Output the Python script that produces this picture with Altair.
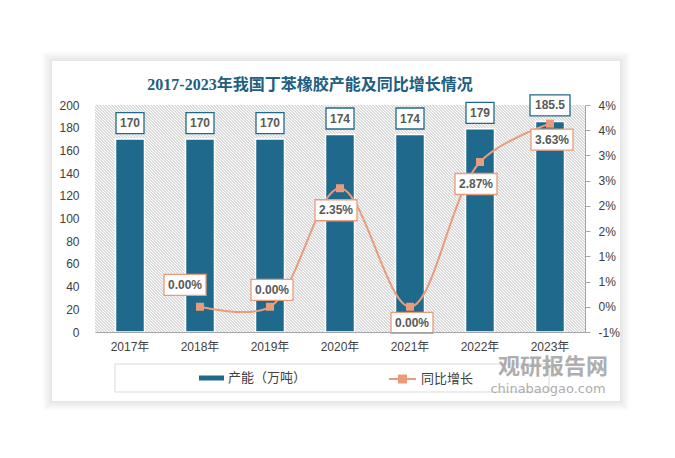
import altair as alt
import pandas as pd

# ---------------- data ----------------
years = ["2017年", "2018年", "2019年", "2020年", "2021年", "2022年", "2023年"]
capacity = [170, 170, 170, 174, 174, 179, 185.5]
growth = [None, 0.0, 0.0, 0.0235, 0.0, 0.0287, 0.0363]
left_ticks = [0, 20, 40, 60, 80, 100, 120, 140, 160, 180, 200]
right_ticks = [-0.005, 0.0, 0.005, 0.01, 0.015, 0.02, 0.025, 0.03, 0.035, 0.04]
series_bar = "产能（万吨）"
series_line = "同比增长"
title_text = "2017-2023年我国丁苯橡胶产能及同比增长情况"

# ---------------- style ----------------
BLUE = "#1F6A8C"
ORANGE = "#E99C7B"
TITLE_C = "#215E80"
AX_C = "#404040"
LBL_C = "#595959"
LINE_C = "#a6a6a6"
FONT = "Liberation Sans, Noto Sans CJK SC"
CJK = "Noto Sans CJK SC"
W, H = 490, 227

df = pd.DataFrame({"year": years, "cap": capacity, "growth": growth})
one = pd.DataFrame({"k": [0]})

# hatch pattern via a striped linear gradient (isolines at 45 degrees)
N = 239
stops = []
for i in range(N):
    a = i / N
    b = (i + 0.34) / N
    stops += [
        {"offset": a, "color": "#dcdcdc"},
        {"offset": b, "color": "#dcdcdc"},
        {"offset": b, "color": "#ffffff"},
        {"offset": (i + 1) / N, "color": "#ffffff"},
    ]
hatch = {"gradient": "linear", "x1": 0, "y1": 1, "x2": 1.2047, "y2": 0.4419, "stops": stops}


def deco_rect(x, x2, y, y2, **mk):
    return alt.Chart(one).mark_rect(**mk).encode(
        x=alt.value(x), x2=alt.value(x2), y=alt.value(y), y2=alt.value(y2)
    )


x_enc = alt.X(
    "year:N",
    sort=years,
    scale=alt.Scale(paddingInner=0, paddingOuter=0),
    axis=alt.Axis(
        title=None, labelAngle=0, domainColor=LINE_C, domainWidth=1, ticks=False, tickSize=0,
        labelPadding=9, labelFont=FONT, labelFontSize=12, labelColor=AX_C, grid=False, zindex=2,
    ),
)
y_left = alt.Y(
    "cap:Q",
    scale=alt.Scale(domain=[0, 200], nice=False, zero=True),
    axis=alt.Axis(
        title=None, values=left_ticks, domain=False, ticks=False, tickSize=0, grid=False,
        labelPadding=16, labelFont=FONT, labelFontSize=12, labelColor=AX_C, zindex=2,
    ),
)
y_right = alt.Y(
    "growth:Q",
    scale=alt.Scale(domain=[-0.005, 0.04], nice=False, zero=False),
    axis=alt.Axis(
        title=None, orient="right", values=right_ticks,
        labelExpr="replace(format(datum.value, '.0%'), '\u2212', '-')",
        domainColor=LINE_C, tickColor=LINE_C, tickSize=5, labelPadding=8, grid=False,
        labelFont=FONT, labelFontSize=12, labelColor=AX_C, zindex=2,
    ),
)

base = alt.Chart(df)

# ---------------- left (bars) ----------------
bars = base.transform_calculate(series=f"'{series_bar}'").mark_bar(
    size=29, stroke="white", strokeWidth=1.5
).encode(
    x=x_enc,
    y=y_left,
    color=alt.Color(
        "series:N",
        scale=alt.Scale(domain=[series_bar], range=[BLUE]),
        legend=alt.Legend(
            orient="none", legendX=104, legendY=260.5, title=None,
            symbolType="M-1,-0.2H1V0.2H-1Z", symbolSize=625, symbolStrokeWidth=0,
            labelFont=CJK, labelFontSize=13, labelColor=AX_C, padding=0, labelOffset=4, zindex=2,
        ),
    ),
)

box3 = "M-1.4,-1.05H1.4V1.05H-1.4Z"
box5 = "M-2,-1.05H2V1.05H-2Z"
bar_boxes = base.transform_calculate(
    len="toString(length(toString(datum.cap)))"
).mark_point(
    filled=True, color="white", stroke=BLUE, strokeWidth=1.3, opacity=1, size=400, yOffset=-16
).encode(
    x=x_enc,
    y=y_left,
    shape=alt.Shape("len:N", scale=alt.Scale(domain=["3", "5"], range=[box3, box5]), legend=None),
)
bar_text = base.mark_text(
    font="Liberation Sans", fontSize=12, fontWeight="bold", color=LBL_C, yOffset=-16, baseline="middle"
).encode(x=x_enc, y=y_left, text=alt.Text("cap:Q"))

left = alt.layer(bars, bar_boxes, bar_text)

# ---------------- right (growth line) ----------------
gbase = base.transform_filter("isValid(datum.growth)")
line = gbase.transform_calculate(series2=f"'{series_line}'").mark_line(
    strokeWidth=2, interpolate="catmull-rom"
).encode(
    x=x_enc,
    y=y_right,
    stroke=alt.Stroke(
        "series2:N",
        scale=alt.Scale(domain=[series_line], range=[ORANGE]),
        legend=alt.Legend(
            orient="none", legendX=293, legendY=259.5, title=None,
            symbolType="M-1,0H1M-0.26,-0.26H0.26V0.26H-0.26Z", symbolSize=729,
            symbolStrokeWidth=2, symbolFillColor=ORANGE,
            labelFont=CJK, labelFontSize=13, labelColor=AX_C, padding=0, labelOffset=4, zindex=2,
        ),
    ),
)
pts = gbase.mark_point(shape="square", size=64, filled=True, color=ORANGE, opacity=1).encode(
    x=x_enc, y=y_right
)

pbox = "M-2.1,-1.05H2.1V1.05H-2.1Z"


def growth_labels(sel, xo, yo):
    sub = gbase.transform_filter(alt.FieldOneOfPredicate(field="year", oneOf=sel))
    bx = sub.mark_point(
        shape=pbox, filled=True, color="white", stroke=ORANGE, strokeWidth=1.3, opacity=1,
        size=400, xOffset=xo, yOffset=yo,
    ).encode(x=x_enc, y=y_right)
    tx = sub.mark_text(
        font="Liberation Sans", fontSize=12, fontWeight="bold", color=LBL_C, baseline="middle",
        xOffset=xo, yOffset=yo,
    ).encode(x=x_enc, y=y_right, text=alt.Text("growth:Q", format=".2%"))
    return [bx, tx]


glabels = (
    growth_labels(["2018年"], -15, -22)
    + growth_labels(["2019年"], 2, -17)
    + growth_labels(["2020年", "2022年"], -4, 22)
    + growth_labels(["2021年", "2023年"], 2, 16)
)

right = alt.layer(line, pts, *glabels)

# ---------------- decorations ----------------
decos = []
for e in [9, 7, 5, 3, 1.5]:
    decos.append(deco_rect(-43 - e, 525 + e, -44 - e, 296 + e, color="black", opacity=0.02))
decos.append(deco_rect(-43, 525, -44, 296, color="white"))
decos.append(deco_rect(0, W, 0, H, color=hatch))
decos.append(deco_rect(20, 454, 259, 287, fill="white", stroke="#d9d9d9", strokeWidth=1))

wm = [
    alt.Chart(one).mark_text(
        text="观研报告网", font=CJK, fontSize=22, fontWeight="bold", color="#9a9a9a", opacity=0.8
    ).encode(x=alt.value(458), y=alt.value(262)),
    alt.Chart(one).mark_text(
        text="chinabaogao.com", font="DejaVu Sans", fontSize=13, color="#9a9a9a", opacity=0.8
    ).encode(x=alt.value(453), y=alt.value(284)),
]

chart = alt.layer(*decos, left, right, *wm).resolve_scale(y="independent").properties(
    width=W,
    height=H,
    padding={"left": 87, "top": 97, "right": 80, "bottom": 110},
    autosize=alt.AutoSizeParams(type="none"),
    title=alt.TitleParams(
        title_text, font="Liberation Serif, Noto Sans CJK SC", fontSize=16, fontWeight="bold",
        color=TITLE_C, anchor="middle", frame="group", dx=-30, dy=53, offset=12,
    ),
).configure_view(stroke=None)

chart.save("out.html", embed_options={"renderer": "svg", "actions": False})
